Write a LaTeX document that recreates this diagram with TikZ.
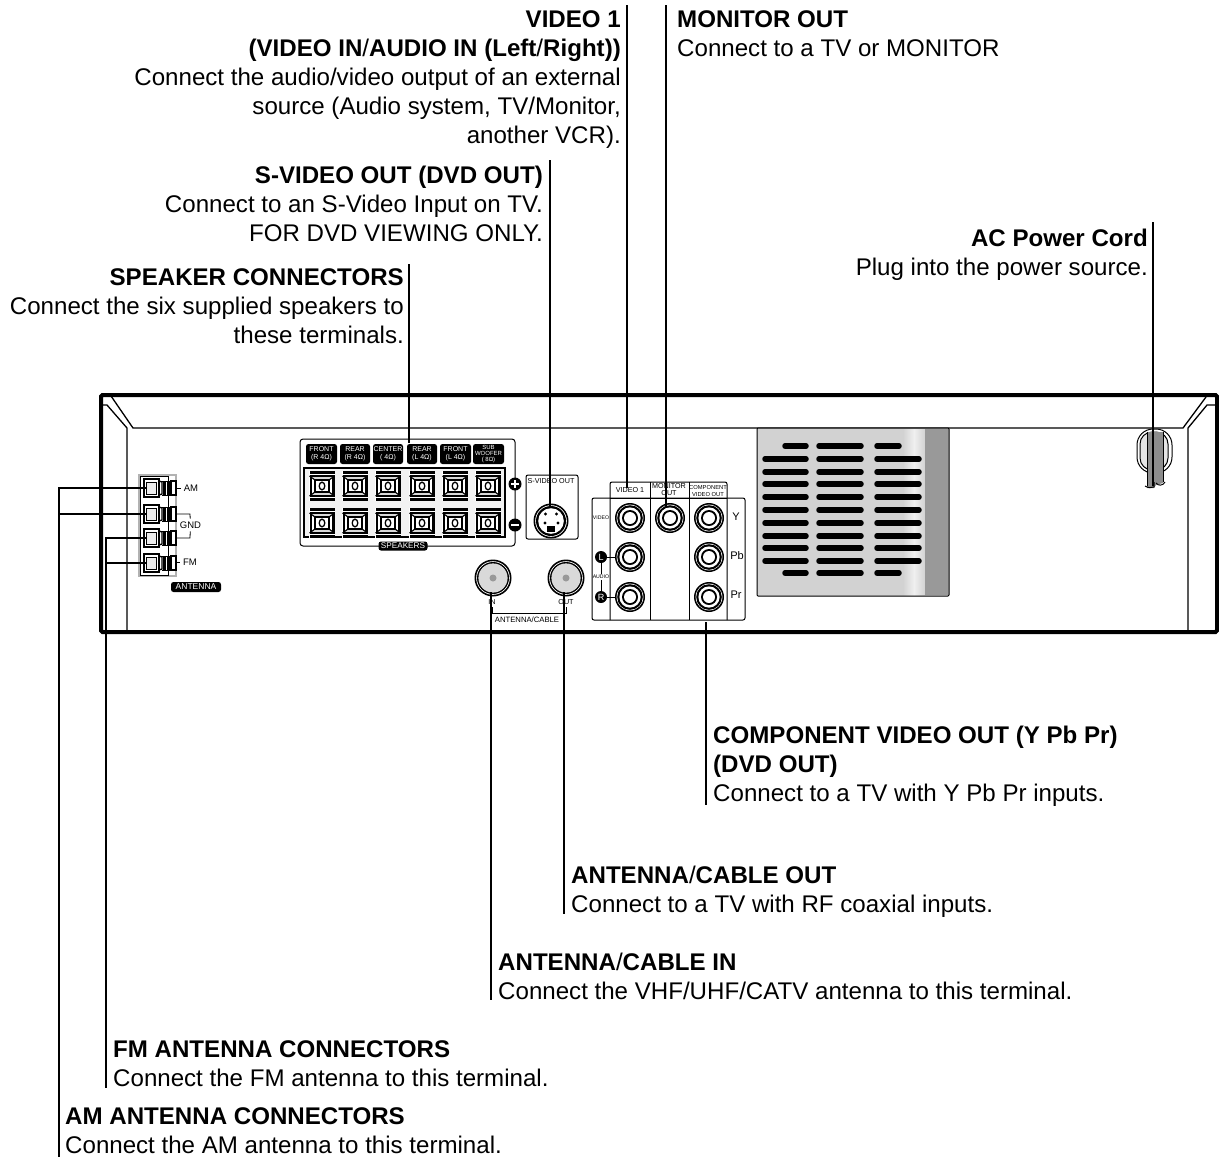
\documentclass[tikz,border=0pt]{standalone}
\usepackage{fontspec}
\setmainfont{Liberation Sans}
\tikzset{
  lead/.style={line width=1.1pt},
  body/.style={line width=1.3pt},
  note/.style={font=\fontsize{24.1}{29}\selectfont, inner sep=0pt},
  rnote/.style={note, align=right, anchor=north east},
  lnote/.style={note, align=left, anchor=north west},
  tag/.style={fill=black, text=white, rounded corners=2.5pt, inner sep=0pt, font=\fontsize{7}{8.5}\selectfont, align=center},
  tiny/.style={inner sep=0pt, font=\fontsize{7.2}{7}\selectfont, align=center},
  small/.style={inner sep=0pt, font=\fontsize{11}{12}\selectfont},
  antlabel/.style={inner sep=0pt, outer sep=3pt, font=\fontsize{9.5}{10}\selectfont},
  slot/.style={line width=5.5pt, line cap=round},
  rca/.pic={
    \fill (0,0) circle (15pt);
    \fill[white] (0,0) circle (13.4pt);
    \fill (0,0) circle (12.8pt);
    \fill[white] (0,0) circle (10.6pt);
    \fill (0,0) circle (8pt);
    \fill[white] (0,0) circle (6pt);
  },
  coax/.pic={
    \fill (0,0) circle (18.5pt);
    \fill[white] (0,0) circle (16.8pt);
    \fill (0,0) circle (16pt);
    \fill[gray!30] (0,0) circle (14.6pt);
    \fill[gray!80] (0,0) circle (3.5pt);
  },
  spkterm/.pic={
    \fill[white] (-13,-15) rectangle (13,15);
    \fill (-12.5,-15) rectangle (12.5,-12);
    \fill (-12.5,12) rectangle (12.5,15);
    \fill[gray!30] (-12.5,-10) -- (12.5,-10) -- (7,-6) -- (-7,-6) -- cycle;
    \fill[gray!30] (-12.5,10) -- (12.5,10) -- (7,6) -- (-7,6) -- cycle;
    \fill (-12.5,-10) -- (-12.5,10) -- (-10,10) -- (-10,-10) -- cycle;
    \fill (12.5,-10) -- (12.5,10) -- (10,10) -- (10,-10) -- cycle;
    \draw[line width=1.2pt] (-12.5,-10) -- (12.5,-10) (-12.5,10) -- (12.5,10);
    \draw[line width=1.1pt] (-12.5,-10) -- (-7,-6) (12.5,-10) -- (7,-6) (-12.5,10) -- (-7,6) (12.5,10) -- (7,6);
    \draw[line width=1.7pt] (-7,-6) rectangle (7,6);
    \draw[line width=1.3pt] (0,0) ellipse (2.8pt and 3.8pt);
  },
  antterm/.pic={
    \fill[white] (-7,-9) rectangle (10,9);
    \draw[line width=1.9pt] (-6,-9) rectangle (9,9);
    \fill[gray!15] (-3.5,-6) rectangle (6,6);
    \draw[line width=.9pt] (-3.5,-6) rectangle (6,6);
    \draw[line width=1.3pt] (9,-7) -- (12,-6) -- (12,6) -- (9,7);
    \fill (13,-7) rectangle (15.5,7);
    \fill (17,-7) rectangle (19.5,7);
    \draw[line width=1.4pt] (21,-7) rectangle (26,7);
    \draw[line width=1pt] (12,-7) -- (21,-7) (12,7) -- (21,7);
  }
}
\begin{document}
\begin{tikzpicture}[x=1pt,y=-1pt]
\useasboundingbox (0,0) rectangle (1219,1157);

\draw[line width=4pt, rounded corners=1.5pt] (101,395) rectangle (1217,632);
\draw[body] (111,396) -- (133,428) -- (1183,428) -- (1206,397);
\draw[body] (102,405) -- (107,405) -- (127,428) -- (127,632);
\draw[body] (1217,405) -- (1207,405) -- (1188,428) -- (1188,632);

\fill[gray!35, rounded corners=1pt] (757,428) rectangle (949,596);
\shade[left color=gray!35, right color=gray!12] (903,429) rectangle (914,595);
\shade[left color=gray!12, right color=gray!35] (914,429) rectangle (925,595);
\fill[black!40] (925,429) rectangle (949,595);
\draw[line width=1pt, rounded corners=1pt] (757,428) rectangle (949,596);
\foreach \vy in {459,472,484,497,510,523,536,548,561} {
  \draw[slot] (765,\vy) -- (806,\vy);
  \draw[slot] (819,\vy) -- (861,\vy);
  \draw[slot] (877,\vy) -- (919,\vy);
}
\foreach \vy in {446,573} {
  \draw[slot] (785,\vy) -- (806,\vy);
  \draw[slot] (819,\vy) -- (861,\vy);
  \draw[slot] (877,\vy) -- (899,\vy);
}

\draw[line width=1pt, rounded corners=16pt] (1137,429) rectangle (1172,473);
\fill[gray!20, rounded corners=12pt] (1140,432) rectangle (1168,470);
\draw[line width=1pt, rounded corners=12pt] (1140,432) rectangle (1168,470);
\fill[black!45] (1147,432) -- (1163,432) -- (1163,483) -- (1156,485) -- (1154,488) -- (1147,488) -- cycle;
\draw[line width=1pt] (1147,432) -- (1147,486) (1163,432) -- (1163,482);
\draw[line width=1pt] (1145,486) .. controls (1148,488) and (1151,488) .. (1154,487) -- (1154,482);
\draw[line width=1pt] (1156,483) .. controls (1158,486) and (1163,486) .. (1165,482);

\draw[line width=1pt, rounded corners=3pt] (300,439) rectangle (515,546);
\fill[gray!10] (304,468) rectangle (505,537);
\draw[line width=1.8pt] (304,468) rectangle (505,537);
\foreach \tx in {322,355,388,422,455,488} {
  \path (\tx,486) pic {spkterm};
  \path (\tx,523) pic {spkterm};
}
\node[tag, minimum width=31pt, minimum height=20pt] (lfront) at (321.5,454) {FRONT\\(R 4Ω)};
\node[tag, minimum width=30pt, minimum height=20pt] (lrear) at (355,454) {REAR\\(R 4Ω)};
\node[tag, minimum width=30pt, minimum height=20pt] (lcenter) at (388,454) {CENTER\\( 4Ω)};
\node[tag, minimum width=30pt, minimum height=20pt] (lrearl) at (422,454) {REAR\\(L 4Ω)};
\node[tag, minimum width=31pt, minimum height=20pt] (lfrontl) at (455.5,454) {FRONT\\(L 4Ω)};
\node[tag, minimum width=31pt, minimum height=20pt, font=\fontsize{6}{6.3}\selectfont] (lsub) at (488.5,454) {SUB\\WOOFER\\( 8Ω)};
\node[tag, minimum width=49pt, minimum height=9pt, font=\fontsize{8.2}{9}\selectfont] (lspeakers) at (403,546) {SPEAKERS};
\fill (515,484) circle (6.5pt);
\fill (515,525) circle (6.5pt);
\draw[white, line width=2pt] (511,484) -- (519,484) (515,480) -- (515,488);
\draw[white, line width=2pt] (511,525) -- (519,525);

\draw[line width=1pt, rounded corners=2pt] (526,475) rectangle (578,539);
\node[tiny] (lsvideo) at (551,481) {S-VIDEO OUT};
\fill (551,521) circle (17.5pt);
\fill[white] (551,521) circle (15.8pt);
\fill (551,521) circle (15pt);
\fill[white] (551,521) circle (12.8pt);
\fill (545.5,514) circle (1.6pt) (556.5,514) circle (1.6pt) (545,523) circle (1.6pt) (558,523) circle (1.6pt);
\fill (547,526) rectangle (555,532);

\draw[line width=1pt, rounded corners=2pt] (592,498) rectangle (745,620);
\draw[line width=1pt, rounded corners=2pt] (610,620) -- (610,482) -- (727,482) -- (727,620);
\draw[line width=1pt] (610,498) -- (727,498);
\draw[line width=1pt] (650,482) -- (650,620);
\draw[line width=1pt] (689,482) -- (689,620);
\node[tiny] (lvideoone) at (630,490) {VIDEO 1};
\node[tiny] (lmonitor) at (669,490) {MONITOR\\OUT};
\node[tiny, font=\fontsize{5.8}{6.5}\selectfont] (lcomponent) at (708,491) {COMPONENT\\VIDEO OUT};
\node[tiny, font=\fontsize{5.2}{6}\selectfont] (lvideo) at (601,518) {VIDEO};
\node[tiny, font=\fontsize{5.2}{6}\selectfont, outer sep=1.5pt] (laudio) at (601,577) {AUDIO};
\path (630,518) pic {rca};
\path (630,557) pic {rca};
\path (630,597) pic {rca};
\path (670,518) pic {rca};
\path (709,518) pic {rca};
\path (709,557) pic {rca};
\path (709,597) pic {rca};
\node[small] (ly) at (736,517) {Y};
\node[small] (lpb) at (737,556) {Pb};
\node[small] (lpr) at (736,595) {Pr};
\node[circle, fill=black, text=white, inner sep=0pt, minimum size=12pt, font=\fontsize{9}{9}\selectfont] (ll) at (601,557) {L};
\node[circle, fill=black, text=white, inner sep=0pt, minimum size=12pt, font=\fontsize{9}{9}\selectfont] (lr) at (601,597) {R};
\coordinate (lsock) at (615,557);
\coordinate (rsock) at (615,597);
\draw[line width=.8pt] (ll) -- (lsock);
\draw[line width=.8pt] (lr) -- (rsock);
\draw[line width=.8pt] (ll) -- (laudio);
\draw[line width=.8pt] (lr) -- (laudio);

\path (493,578) pic {coax};
\path (566,578) pic {coax};
\node[tiny] (lin) at (492,602) {IN};
\node[tiny] (lout) at (566,602) {OUT};
\node[tiny, font=\fontsize{7.7}{8}\selectfont] (lcable) at (527,620) {ANTENNA/CABLE};
\draw[line width=.8pt] (492,607) -- (492,613) -- (566,613) -- (566,607);

\fill[gray!60] (138,474) rectangle (177,577);
\fill[white] (140,476) rectangle (175,575);
\draw[line width=1pt] (140,476) rectangle (168,575);
\path (150,488) pic {antterm};
\path (150,514) pic {antterm};
\path (150,538) pic {antterm};
\path (150,563) pic {antterm};
\node[antlabel] (lam) at (191,488) {AM};
\node[antlabel] (lgnd) at (190.5,525) {GND};
\node[antlabel] (lfm) at (190,562) {FM};
\coordinate (amtick) at (177,488);
\coordinate (fmtick) at (177,562);
\draw[line width=.8pt] (amtick) -- (lam);
\draw[line width=.8pt] (fmtick) -- (lfm);
\draw[line width=.8pt] (177,514) -- (190,514) -- (lgnd);
\draw[line width=.8pt] (177,538) -- (190,538) -- (lgnd);
\node[tag, minimum width=50pt, minimum height=10pt, font=\fontsize{8.5}{9}\selectfont] (lantenna) at (196,587) {ANTENNA};

\node[rnote] (videonote) at (621,10) {\textbf{VIDEO 1}\\\textbf{(VIDEO IN}/\textbf{AUDIO IN (Left}/\textbf{Right))}\\Connect the audio/video output of an external\\source (Audio system, TV/Monitor,\\another VCR).};
\node[lnote] (monitornote) at (677,10) {\textbf{MONITOR OUT}\\Connect to a TV or MONITOR};
\node[rnote] (svideonote) at (543,166) {\textbf{S-VIDEO OUT (DVD OUT)}\\Connect to an S-Video Input on TV.\\FOR DVD VIEWING ONLY.};
\node[rnote] (speakernote) at (404,268) {\textbf{SPEAKER CONNECTORS}\\Connect the six supplied speakers to\\these terminals.};
\node[rnote] (acnote) at (1148,229) {\textbf{AC Power Cord}\\Plug into the power source.};
\node[lnote] (componentnote) at (713,726) {\textbf{COMPONENT VIDEO OUT (Y Pb Pr)}\\\textbf{(DVD OUT)}\\Connect to a TV with Y Pb Pr inputs.};
\node[lnote] (outnote) at (571,866) {\textbf{ANTENNA}/\textbf{CABLE OUT}\\Connect to a TV with RF coaxial inputs.};
\node[lnote] (innote) at (498,953) {\textbf{ANTENNA}/\textbf{CABLE IN}\\Connect the VHF/UHF/CATV antenna to this terminal.};
\node[lnote] (fmnote) at (113,1040) {\textbf{FM ANTENNA CONNECTORS}\\Connect the FM antenna to this terminal.};
\node[lnote] (amnote) at (65,1107) {\textbf{AM ANTENNA CONNECTORS}\\Connect the AM antenna to this terminal.};

\coordinate (videotop) at (627,5);
\coordinate (videoend) at (627,488);
\coordinate (monitortop) at (666,5);
\coordinate (monitorend) at (666,508);
\coordinate (svideotop) at (550,160);
\coordinate (svideoend) at (550,507);
\coordinate (speakertop) at (409,264);
\coordinate (speakerend) at (409,443);
\coordinate (actop) at (1153,222);
\coordinate (acend) at (1153,486);
\coordinate (componenttop) at (706,622);
\coordinate (componentend) at (706,805);
\coordinate (outtop) at (564,592);
\coordinate (outend) at (564,914);
\coordinate (intop) at (491,592);
\coordinate (inend) at (491,1000);
\coordinate (fmtop) at (147,538);
\coordinate (fmcorner) at (106,538);
\coordinate (fmend) at (106,1088);
\coordinate (fmtwo) at (147,563);
\coordinate (fmtwostart) at (106,563);
\coordinate (amone) at (147,488);
\coordinate (amtwo) at (147,514);
\coordinate (amcorner) at (59,488);
\coordinate (amend) at (59,1157);
\coordinate (amtwostart) at (59,514);
\draw[lead, line width=1.6pt] (videotop) -- (videoend);
\draw[lead] (monitortop) -- (monitorend);
\draw[lead] (svideotop) -- (svideoend);
\draw[lead] (speakertop) -- (speakerend);
\draw[lead] (actop) -- (acend);
\draw[lead] (componenttop) -- (componentend);
\draw[lead] (outtop) -- (outend);
\draw[lead] (intop) -- (inend);
\draw[lead] (fmtop) -- (fmcorner) -- (fmend);
\draw[lead] (fmtwostart) -- (fmtwo);
\draw[lead] (amone) -- (amcorner) -- (amend);
\draw[lead] (amtwostart) -- (amtwo);
\end{tikzpicture}
\end{document}
